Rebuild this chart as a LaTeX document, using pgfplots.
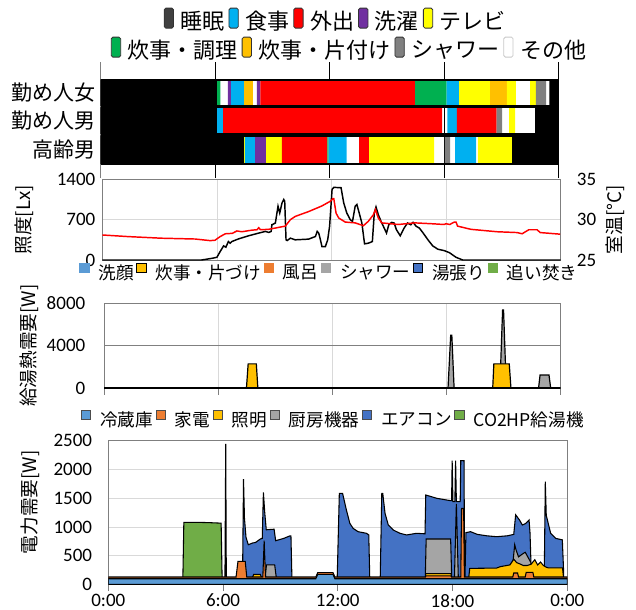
\documentclass[border=0pt]{standalone}
\usepackage{fontspec}
\setmainfont{Carlito}
\newfontfamily\jp{Noto Sans CJK JP}
\usepackage{pgfplots}
\pgfplotsset{compat=1.18}
\definecolor{cSleep}{HTML}{000000}
\definecolor{cSleepL}{HTML}{404040}
\definecolor{cEat}{HTML}{00B0F0}
\definecolor{cOut}{HTML}{FF0000}
\definecolor{cWash}{HTML}{7030A0}
\definecolor{cTV}{HTML}{FFFF00}
\definecolor{cCook}{HTML}{00B050}
\definecolor{cClean}{HTML}{FFC000}
\definecolor{cShower}{HTML}{808080}
\definecolor{cOther}{HTML}{C8C8C8}
\definecolor{pBlueL}{HTML}{5B9BD5}
\definecolor{pOrange}{HTML}{ED7D31}
\definecolor{pGray}{HTML}{A5A5A5}
\definecolor{pYellow}{HTML}{FFC000}
\definecolor{pBlue}{HTML}{4472C4}
\definecolor{pGreen}{HTML}{70AD47}
\definecolor{axgray}{HTML}{7F7F7F}
\definecolor{gridgray}{HTML}{D9D9D9}
\newcommand{\tickfont}{\fontsize{14.25}{16}\selectfont}
\newcommand{\seg}[5]{\addplot[fill=#5,draw=none,forget plot] coordinates {(#3,#1)(#4,#1)(#4,#2)(#3,#2)(#3,#1)};}
\pgfplotsset{
  topleg/.style={legend columns=-1,
    legend style={draw=none, fill=none, font=\jp\fontsize{16.5}{18}\selectfont, anchor=center, inner sep=0pt,
      /tikz/every even column/.append style={column sep=1pt},
      /tikz/every odd column/.append style={column sep=3pt}},
    legend image code/.code={\draw[##1, rounded corners=1.2pt, line width=0.6pt] (0pt,-5pt) rectangle (7pt,10pt);}},
  lowleg/.style={legend columns=-1,
    legend style={draw=none, fill=none, font=\jp\fontsize{13.2}{15}\selectfont, anchor=center, inner sep=0pt,
      /tikz/every even column/.append style={column sep=0pt},
      /tikz/every odd column/.append style={column sep=5pt}},
    legend image code/.code={\draw[##1, line width=0.4pt] (0pt,0.5pt) rectangle (7pt,7.5pt);}},
}
\begin{document}
\begin{tikzpicture}
\useasboundingbox (0,0) rectangle (477pt,-457.5pt);

% ---------------- Panel A: activities ----------------
\begin{axis}[
  at={(75.525pt,-46.5pt)}, anchor=north west, scale only axis,
  width=343.5pt, height=87pt,
  xmin=0, xmax=24, ymin=0, ymax=116,
  axis y line*=left, axis x line*=bottom,
  x axis line style={draw=none},
  y axis line style={draw=gray, line width=0.8pt, -},
  xtick={6,12,18,24}, xticklabels={}, xmajorgrids,
  major x grid style={black, line width=0.6pt},
  ytick={85,57,28}, yticklabels={{勤め人女},{勤め人男},{高齢男}},
  yticklabel style={font=\jp\fontsize{15.75}{17}\selectfont, inner sep=0pt, xshift=-4pt},
  major tick length=0pt, tick style={draw=none},
  topleg, legend style={at={(axis description cs:0.514,1.353)}},
]
% row 1 (y 72..98)
\seg{72}{98}{0}{6.10}{cSleep}
\seg{72}{98}{6.10}{6.27}{cCook}
\seg{72}{98}{6.67}{6.83}{cWash}
\seg{72}{98}{6.83}{7.51}{cEat}
\seg{72}{98}{7.51}{7.98}{cClean}
\seg{72}{98}{8.19}{8.37}{cWash}
\seg{72}{98}{8.37}{16.47}{cOut}
\seg{72}{98}{16.47}{18.13}{cCook}
\seg{72}{98}{18.13}{18.78}{cEat}
\seg{72}{98}{18.78}{20.40}{cTV}
\seg{72}{98}{20.40}{21.29}{cClean}
\seg{72}{98}{21.29}{21.75}{cTV}
\seg{72}{98}{22.50}{22.80}{cTV}
\seg{72}{98}{22.80}{23.34}{cShower}
\seg{72}{98}{23.51}{24}{cSleep}
% row 2 (y 44..70.5)
\seg{44}{70.5}{0}{6.10}{cSleep}
\seg{44}{70.5}{6.10}{6.41}{cEat}
\seg{44}{70.5}{6.41}{17.89}{cOut}
\seg{44}{70.5}{18.17}{18.67}{cEat}
\seg{44}{70.5}{18.67}{20.75}{cOut}
\seg{44}{70.5}{20.75}{21.03}{cShower}
\seg{44}{70.5}{21.40}{21.71}{cTV}
\seg{44}{70.5}{22.76}{24}{cSleep}
% row 3 (y 14..42)
\seg{14}{42}{0}{7.51}{cSleep}
\seg{14}{42}{7.51}{7.56}{cTV}
\seg{14}{42}{7.56}{8.09}{cEat}
\seg{14}{42}{8.09}{8.67}{cWash}
\seg{14}{42}{8.67}{9.50}{cTV}
\seg{14}{42}{9.50}{11.88}{cOut}
\seg{14}{42}{11.88}{11.95}{cCook}
\seg{14}{42}{11.95}{12.89}{cEat}
\seg{14}{42}{13.54}{14.06}{cOut}
\seg{14}{42}{14.06}{17.47}{cTV}
\seg{14}{42}{18.03}{18.31}{cShower}
\seg{14}{42}{18.57}{19.67}{cEat}
\seg{14}{42}{19.76}{21.56}{cTV}
\seg{14}{42}{21.56}{24}{cSleep}
% row outlines
\addplot[draw=black, line width=0.8pt, forget plot] coordinates {(0,72)(24,72)(24,98)(0,98)(0,72)};
\addplot[draw=black, line width=0.8pt, forget plot] coordinates {(0,44)(24,44)(24,70.5)(0,70.5)(0,44)};
\addplot[draw=black, line width=0.8pt, forget plot] coordinates {(0,14)(24,14)(24,42)(0,42)(0,14)};
\addlegendimage{fill=cSleepL, draw=black!80}\addlegendentry{睡眠}
\addlegendimage{fill=cEat, draw=black!80}\addlegendentry{食事}
\addlegendimage{fill=cOut, draw=black!80}\addlegendentry{外出}
\addlegendimage{fill=cWash, draw=black!80}\addlegendentry{洗濯}
\addlegendimage{fill=cTV, draw=black!80}\addlegendentry{テレビ}
\end{axis}

% second legend row for panel A
\begin{axis}[
  at={(75.525pt,-46.5pt)}, anchor=north west, scale only axis,
  width=343.5pt, height=87pt, hide axis,
  xmin=0, xmax=24, ymin=0, ymax=116,
  topleg, legend style={at={(axis description cs:0.544,1.103)}},
]
\addlegendimage{fill=cCook, draw=black!80}\addlegendentry{炊事・調理}
\addlegendimage{fill=cClean, draw=black!80}\addlegendentry{炊事・片付け}
\addlegendimage{fill=cShower, draw=black!80}\addlegendentry{シャワー}
\addlegendimage{fill=white, draw=cOther, line width=1.4pt}\addlegendentry{その他}
\end{axis}

% ---------------- Panel B: illuminance / temperature ----------------
\begin{axis}[
  at={(76.725pt,-134.475pt)}, anchor=north west, scale only axis,
  width=343.8pt, height=60.525pt,
  xmin=0, xmax=24, ymin=0, ymax=1400,
  xtick={6,12,18}, xticklabels={}, ytick={0,700,1400}, ytick pos=left,
  xmajorgrids, ymajorgrids, grid style={gridgray, line width=0.6pt},
  axis line style={axgray, line width=0.75pt},
  tick style={draw=none},
  /pgf/number format/assume math mode=true, /pgf/number format/1000 sep={},
  yticklabel style={font=\tickfont, inner sep=0pt, xshift=-5pt},
  ylabel={照度[Lx]}, ylabel style={font=\jp\fontsize{14}{15}\selectfont, at={(axis description cs:-0.17,0.5)}, anchor=center},
]
\addplot[black, line width=1.1pt] coordinates {
(0,0)(5.2,0)(5.74,29)(6.0,47)(6.17,146)(6.35,245)(6.47,222)(6.6,320)(6.69,292)(6.78,320)(7.14,367)(7.66,420)(8.19,467)(8.54,496)(8.72,478)(8.84,496)(8.88,612)(9.06,640)(9.2,933)(9.29,816)(9.41,991)(9.5,1050)(9.55,1020)(9.62,350)(9.68,338)(9.85,379)(10.1,350)(10.8,362)(11.16,408)(11.25,496)(11.33,467)(11.42,350)(11.5,233)(11.68,233)(11.8,350)(11.9,583)(12.03,1225)(12.12,1260)(12.5,1254)(12.64,990)(12.8,816)(12.98,700)(13.1,670)(13.24,933)(13.33,962)(13.45,816)(13.59,641)(13.73,280)(13.93,292)(14.14,320)(14.24,816)(14.33,921)(14.45,787)(14.63,641)(14.7,595)(14.88,467)(15.0,612)(15.15,653)(15.28,641)(15.4,525)(15.6,420)(15.8,554)(15.98,641)(16.15,612)(16.27,653)(16.44,583)(16.6,554)(16.8,467)(17.05,350)(17.3,245)(17.57,187)(17.9,163)(18.17,128)(18.52,47)(18.87,0)(24,0)};
\end{axis}
\begin{axis}[
  at={(76.725pt,-134.475pt)}, anchor=north west, scale only axis,
  width=343.8pt, height=60.525pt,
  xmin=0, xmax=24, ymin=25, ymax=35,
  axis y line*=right, axis x line=none,
  y axis line style={draw=none},
  ytick={25,30,35}, tick style={draw=none},
  /pgf/number format/assume math mode=true,
  yticklabel style={font=\tickfont, inner sep=0pt, xshift=12pt},
  ylabel={室温[°C]}, ylabel style={font=\jp\fontsize{14}{15}\selectfont, at={(axis description cs:1.12,0.5)}, anchor=center},
]
\addplot[red, line width=1.1pt] coordinates {
(0,28.1)(1.36,27.9)(3.1,27.7)(4.86,27.6)(5.65,27.4)(5.9,27.45)(6.17,27.9)(6.44,28.25)(6.8,28.3)(7.05,28.6)(7.3,28.5)(7.84,28.7)(8.1,28.75)(8.19,29.0)(8.28,28.75)(8.7,28.8)(9.15,29.0)(9.58,29.2)(9.85,30.0)(10.1,30.4)(10.8,31.0)(11.5,31.7)(11.95,32.3)(12.07,32.6)(12.12,32.6)(12.24,30.8)(12.38,30.2)(12.72,29.7)(13.24,29.6)(13.67,29.25)(13.93,29.8)(14.19,30.6)(14.3,31.25)(14.45,30.2)(14.63,29.6)(15.5,29.4)(16.36,29.6)(17.2,29.5)(17.9,29.4)(18.0,29.5)(18.09,29.45)(18.2,29.4)(18.3,29.55)(18.43,29.7)(18.52,29.7)(18.6,29.2)(19.3,28.8)(20.68,28.5)(21.72,28.4)(21.98,28.25)(22.33,28.75)(22.76,28.75)(22.93,28.4)(23.45,28.3)(23.97,28.2)};
\end{axis}

% ---------------- Panel C: hot water demand ----------------
\begin{axis}[
  at={(78.15pt,-227.475pt)}, anchor=north west, scale only axis,
  width=342.3pt, height=63.75pt,
  xmin=0, xmax=24, ymin=0, ymax=8000,
  xtick={0,6,12,18,24}, xticklabels={}, ytick={0,4000,8000},
  xmajorgrids, ymajorgrids,
  major x grid style={gridgray, line width=0.6pt},
  major y grid style={gray, line width=0.9pt},
  axis line style={axgray, line width=0.75pt},
  xtick pos=bottom, xtick align=outside, ytick style={draw=none},
  xtick style={axgray, line width=0.6pt}, major tick length=5pt,
  /pgf/number format/assume math mode=true, /pgf/number format/1000 sep={},
  yticklabel style={font=\tickfont, inner sep=0pt, xshift=-14pt},
  ylabel={給湯熱需要[W]}, ylabel style={font=\jp\fontsize{14}{15}\selectfont, at={(axis description cs:-0.165,0.5)}, anchor=center},
  lowleg, legend style={at={(axis description cs:0.494,1.356)}},
]
\addplot[fill=pGray, draw=black, line width=0.9pt, forget plot] coordinates {(18.08,0)(18.22,5000)(18.28,5000)(18.4,0)};
\addplot[fill=pGray, draw=black, line width=0.9pt, forget plot] coordinates {(20.85,0)(20.85,2300)(20.95,7370)(21.0,7370)(21.1,2300)(21.1,0)};
\addplot[fill=pGray, draw=black, line width=0.9pt, forget plot] coordinates {(22.84,0)(22.92,1250)(23.39,1250)(23.48,0)};
\addplot[fill=pYellow, draw=black, line width=0.9pt, forget plot] coordinates {(7.48,0)(7.57,2300)(8.0,2300)(8.08,0)};
\addplot[fill=pYellow, draw=black, line width=0.9pt, forget plot] coordinates {(20.43,0)(20.49,2300)(21.3,2300)(21.39,0)};
\addplot[black, line width=1.2pt, forget plot] coordinates {(0,0)(24,0)};
\addlegendimage{fill=pBlueL, draw=pBlueL}\addlegendentry{洗顔}
\addlegendimage{fill=pYellow, draw=black}\addlegendentry{炊事・片づけ}
\addlegendimage{fill=pOrange, draw=pOrange}\addlegendentry{風呂}
\addlegendimage{fill=pGray, draw=pGray}\addlegendentry{シャワー}
\addlegendimage{fill=pBlue, draw=black}\addlegendentry{湯張り}
\addlegendimage{fill=pGreen, draw=pGreen}\addlegendentry{追い焚き}
\end{axis}

% ---------------- Panel D: electricity demand ----------------
\begin{axis}[
  at={(81.225pt,-330.375pt)}, anchor=north west, scale only axis,
  width=344.25pt, height=108pt,
  xmin=0, xmax=24, ymin=0, ymax=2500,
  xtick={0,6,12,18,24}, xticklabels={0:00,6:00,12:00,18:00,0:00},
  ytick={0,500,1000,1500,2000,2500},
  ymajorgrids, major y grid style={gridgray, line width=0.6pt},
  axis line style={axgray, line width=0.75pt},
  xtick pos=bottom, xtick align=outside, ytick style={draw=none},
  xtick style={axgray, line width=0.6pt}, major tick length=5pt,
  /pgf/number format/assume math mode=true, /pgf/number format/1000 sep={},
  yticklabel style={font=\tickfont, inner sep=0pt, xshift=-12pt},
  xticklabel style={font=\tickfont, inner sep=0pt, yshift=-2pt},
  ylabel={電力需要[W]}, ylabel style={font=\jp\fontsize{14}{15}\selectfont, at={(axis description cs:-0.17,0.57)}, anchor=center},
  lowleg, legend style={at={(axis description cs:0.491,1.142)}},
]
% CO2HP (cumulative top)
\addplot[fill=pGreen, draw=black, line width=0.8pt, forget plot] coordinates {(3.9,130)(3.95,1080)(4.5,1080)(5.2,1075)(5.9,1065)(5.95,130)} \closedcycle;
% air conditioner (cumulative)
\addplot[fill=pBlue, draw=black, line width=0.8pt, forget plot] coordinates {(7.02,130)(7.07,1830)(7.12,1150)(7.2,820)(7.32,690)(7.54,720)(7.7,730)(7.95,790)(8.05,800)(8.11,1600)(8.18,1250)(8.26,950)(8.67,960)(8.75,760)(9.17,800)(9.5,845)(9.55,845)(9.6,130)} \closedcycle;
\addplot[fill=pBlue, draw=black, line width=0.8pt, forget plot] coordinates {(11.97,130)(12.08,1583)(12.25,1583)(12.45,1293)(12.63,1062)(12.8,975)(13.06,917)(13.5,889)(13.62,860)(13.67,130)} \closedcycle;
\addplot[fill=pBlue, draw=black, line width=0.8pt, forget plot] coordinates {(14.22,130)(14.3,1583)(14.35,1583)(14.47,1236)(14.64,1033)(14.9,946)(15.25,889)(15.6,860)(16.12,889)(16.56,880)(16.6,1554)(17.17,1497)(17.9,1455)(17.95,1455)(17.98,2150)(18.02,1440)(18.12,1440)(18.16,2150)(18.2,1440)(18.4,1440)(18.43,2150)(18.6,2150)(18.63,130)} \closedcycle;
\addplot[fill=pBlue, draw=black, line width=0.8pt, forget plot] coordinates {(18.65,130)(18.7,900)(18.94,917)(19.3,870)(19.8,845)(20.3,830)(20.86,845)(21.2,870)(21.3,1210)(21.5,1120)(21.65,1033)(21.83,1060)(22.0,1120)(22.05,900)(22.1,380)} \closedcycle;
\addplot[fill=pBlue, draw=black, line width=0.8pt, forget plot] coordinates {(22.8,300)(22.85,1785)(22.9,1200)(23.13,889)(23.4,800)(23.74,775)(23.8,290)} \closedcycle;
% kitchen appliances (cumulative)
\addplot[fill=pGray, draw=black, line width=0.8pt, forget plot] coordinates {(6.1,130)(6.14,2440)(6.17,130)} \closedcycle;
\addplot[fill=pGray, draw=black, line width=0.8pt, forget plot] coordinates {(8.22,175)(8.27,340)(8.7,340)(8.78,130)} \closedcycle;
\addplot[fill=pGray, draw=black, line width=0.8pt, forget plot] coordinates {(16.58,190)(16.62,790)(17.9,790)(17.95,190)} \closedcycle;
\addplot[fill=pGray, draw=black, line width=0.8pt, forget plot] coordinates {(18.1,130)(18.2,1400)(18.3,130)} \closedcycle;
\addplot[fill=pGray, draw=black, line width=0.8pt, forget plot] coordinates {(21.15,360)(21.25,690)(21.32,600)(21.45,480)(21.7,540)(21.8,560)(21.95,470)(22.1,380)} \closedcycle;
% lighting (cumulative)
\addplot[fill=pYellow, draw=black, line width=0.8pt, forget plot] coordinates {(7.55,130)(7.6,175)(7.95,175)(8.0,130)} \closedcycle;
\addplot[fill=pYellow, draw=black, line width=0.8pt, forget plot] coordinates {(16.58,130)(16.6,190)(17.92,190)(17.95,130)} \closedcycle;
\addplot[fill=pYellow, draw=black, line width=0.8pt, forget plot] coordinates {(18.85,130)(18.9,280)(20.3,285)(20.5,310)(21.0,340)(21.2,440)(21.35,380)(21.5,360)(21.7,330)(21.9,330)(22.1,350)(22.3,430)(22.45,340)(22.6,390)(22.75,330)(22.9,300)(23.0,290)(23.75,290)(23.8,130)} \closedcycle;
% appliances (cumulative)
\addplot[fill=pOrange, draw=black, line width=0.8pt, forget plot] coordinates {(0,130)(6.68,130)(6.78,400)(7.16,400)(7.24,130)(8.08,130)(8.15,760)(8.22,130)(10.85,130)(10.95,205)(11.75,205)(11.85,130)(16.58,130)(16.6,150)(17.92,150)(17.95,130)(18.43,130)(18.47,1320)(18.58,1320)(18.62,130)(21.15,130)(21.2,200)(21.4,200)(21.45,130)(21.8,130)(21.85,210)(22.2,210)(22.25,130)(24,130)} \closedcycle;
% refrigerator
\addplot[fill=pBlueL, draw=black, line width=0.8pt, forget plot] coordinates {(0,100)(10.85,100)(10.95,175)(11.75,175)(11.85,100)(24,100)} \closedcycle;
\addlegendimage{fill=pBlueL, draw=black!70}\addlegendentry{冷蔵庫}
\addlegendimage{fill=pOrange, draw=black!70}\addlegendentry{家電}
\addlegendimage{fill=pYellow, draw=black!70}\addlegendentry{照明}
\addlegendimage{fill=pGray, draw=black!70}\addlegendentry{厨房機器}
\addlegendimage{fill=pBlue, draw=black!70}\addlegendentry{エアコン}
\addlegendimage{fill=pGreen, draw=black!70}\addlegendentry{CO2HP給湯機}
\end{axis}
\end{tikzpicture}
\end{document}
